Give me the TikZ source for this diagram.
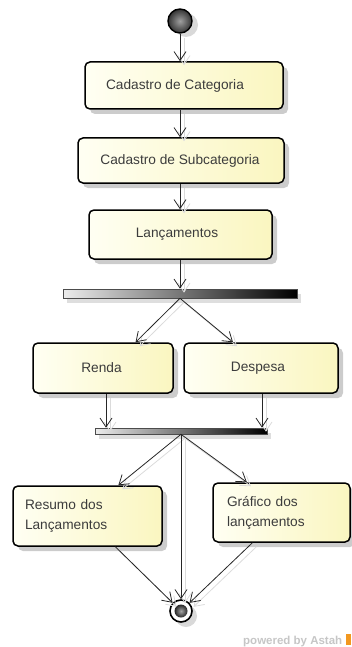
\documentclass[tikz,border=0pt]{standalone}
\usepackage{fontspec}
\setmainfont{Liberation Sans}
\usetikzlibrary{arrows.meta,shadows,calc}

\definecolor{boxleft}{RGB}{255,255,243}
\definecolor{boxright}{RGB}{250,246,192}
\definecolor{labelgray}{RGB}{60,60,60}
\definecolor{astahorange}{RGB}{242,152,32}

% an activity edge: a faint offset shadow line under the black arrow
\newcommand\flowedge[2]{%
  \draw[ghost] #1 -- #2;
  \draw[flow] #1 -- #2;}
% invisible trailing space that nudges a centred label to the left
\newcommand\padright[1]{\rule{#1}{0pt}}

\begin{document}
\begin{tikzpicture}[x=1pt,y=-1pt,
  action/.style={draw=black, line width=1.5pt, rounded corners=5pt,
    left color=boxleft, right color=boxright, text=labelgray,
    font=\fontsize{13.7}{20}\selectfont, inner sep=0pt, align=center,
    drop shadow={shadow xshift=5pt, shadow yshift=-5pt, fill=black, opacity=0.2}},
  syncbar/.style={draw=gray!60!black, line width=0.6pt, left color=gray!15,
    right color=black, inner sep=0pt,
    drop shadow={shadow xshift=4pt, shadow yshift=-5pt, fill=black, opacity=0.13}},
  flow/.style={draw=black!85, line width=0.8pt,
    -{Straight Barb[length=9pt,width=12pt,line width=0.8pt]}},
  ghost/.style={draw=black!14, line width=0.8pt,
    -{Straight Barb[length=9pt,width=12pt,line width=0.8pt]},
    transform canvas={shift={(4pt,-4pt)}}},
]
\useasboundingbox (0,0) rectangle (351,647);

% initial and final states
\node[circle, draw=black, line width=1.4pt, minimum size=24pt, inner sep=0pt,
  shading=radial, inner color=gray!75, outer color=gray!40!black,
  drop shadow={shadow xshift=6pt, shadow yshift=-4pt, fill=black, opacity=0.15}]
  (start) at (180,21) {};
\node[circle, draw=black, line width=1.6pt, fill=white, minimum size=22pt,
  inner sep=0pt,
  drop shadow={shadow xshift=5pt, shadow yshift=-5pt, fill=black, opacity=0.15}]
  (final) at (181,611) {};
\node[circle, shading=radial, inner color=gray!70, outer color=gray!30!black,
  minimum size=13pt, inner sep=0pt] (finaldot) at (final.center) {};

% actions
\node[action, minimum width=198pt, minimum height=47pt] (cat) at (184,85.5)
  {Cadastro de Categoria\padright{18pt}};
\node[action, minimum width=206pt, minimum height=45pt] (sub) at (181,160.5)
  {Cadastro de Subcategoria\padright{2pt}};
\node[action, minimum width=183pt, minimum height=49pt] (lan) at (180.5,234.5)
  {Lançamentos\padright{7pt}};
\node[action, minimum width=140pt, minimum height=50pt] (renda) at (103,368)
  {Renda\padright{3pt}};
\node[action, minimum width=154pt, minimum height=50pt] (despesa) at (261,368)
  {Despesa\padright{6pt}};
\node[action, minimum width=149pt, minimum height=60pt, align=left,
  text width=125pt] (resumo) at (87.5,516) {Resumo dos\\Lançamentos};
\node[action, minimum width=137pt, minimum height=59pt, align=left,
  text width=109pt] (grafico) at (281.5,512.5) {Gráfico dos\\lançamentos};

% fork and join bars
\node[syncbar, minimum width=234pt, minimum height=9pt] (fork) at (180,293.5) {};
\node[syncbar, minimum width=172pt, minimum height=6pt] (join) at (181,431) {};

% control flow
\flowedge{(start)}{(start |- cat.north)}
\flowedge{(start |- cat.south)}{(start |- sub.north)}
\flowedge{(start |- sub.south)}{(start |- lan.north)}
\flowedge{(start |- lan.south)}{(start |- fork.north)}
\flowedge{(fork.south)}{($(renda.north west)!0.73!(renda.north east)$)}
\flowedge{(fork.south)}{($(despesa.north west)!0.32!(despesa.north east)$)}
\flowedge{($(renda.south)+(3,0)$)}{($(renda.south |- join.north)+(3,0)$)}
\flowedge{($(despesa.south)+(1,0)$)}{($(despesa.south |- join.north)+(1,0)$)}
\flowedge{(join.south)}{($(resumo.north west)!0.705!(resumo.north east)$)}
\flowedge{(join.south)}{($(grafico.north west)!0.25!(grafico.north east)$)}
\flowedge{(join.south)}{(final)}
\flowedge{($(resumo.south west)!0.685!(resumo.south east)$)}{(final)}
\flowedge{($(grafico.south west)!0.29!(grafico.south east)$)}{(final)}

% tool mark
\node[anchor=base west, inner sep=0pt, text=gray!45,
  font=\bfseries\fontsize{11.5}{12}\selectfont] (brand) at (243,644)
  {powered by Astah};
\fill[astahorange] (346,634) rectangle (351,645);
\end{tikzpicture}
\end{document}
